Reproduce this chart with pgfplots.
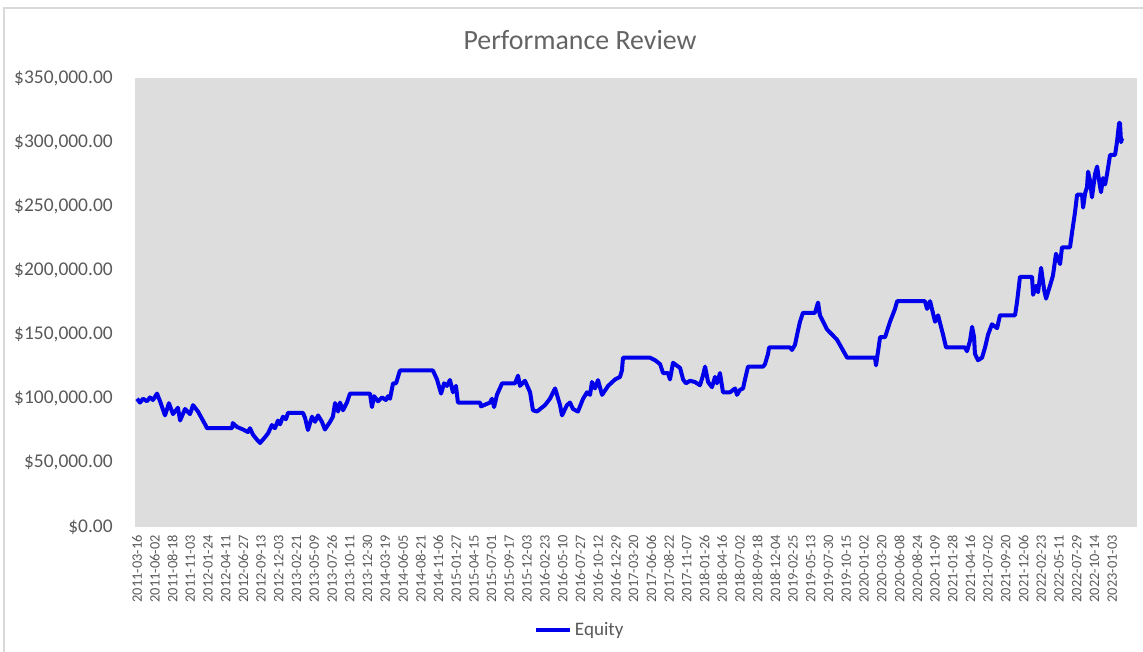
\documentclass[border=0pt]{standalone}
\usepackage{fontspec}
\setmainfont{Carlito}
\usepackage{pgfplots}
\pgfplotsset{compat=1.18}
\definecolor{tickgray}{RGB}{89,89,89}
\definecolor{titlegray}{RGB}{100,100,100}
\definecolor{bg}{RGB}{221,221,221}
\definecolor{framegray}{RGB}{217,217,217}
\definecolor{eqblue}{RGB}{0,0,235}
\begin{document}
\begin{tikzpicture}
\useasboundingbox (0,0) rectangle (857.25pt,-489pt);
\draw[framegray, line width=0.9pt] (3pt,-520pt) -- (3pt,-6pt) -- (900pt,-6pt);
\node[text=titlegray, font=\fontsize{20.9}{25}\selectfont] at (435pt,-30pt) {Performance Review};
\begin{axis}[
  at={(101.25pt,-395.25pt)}, anchor=south west,
  scale only axis, width=751.5pt, height=336.75pt,
  xmin=-0.113, xmax=56.4, ymin=0, ymax=350,
  axis line style={draw=none}, major tick style={draw=none},
  axis background/.style={fill=bg},
  clip=false,
  ytick={0,50,...,350},
  yticklabels={\$0.00,\$50{,}000.00,\$100{,}000.00,\$150{,}000.00,\$200{,}000.00,\$250{,}000.00,\$300{,}000.00,\$350{,}000.00},
  yticklabel style={font=\fontsize{14.6}{17}\selectfont, text=tickgray, inner sep=0pt, anchor=east},
  yticklabel shift=16.5pt,
  xtick={0,...,55},
  xticklabels={2011-03-16,2011-06-02,2011-08-18,2011-11-03,2012-01-24,2012-04-11,2012-06-27,2012-09-13,2012-12-03,2013-02-21,2013-05-09,2013-07-26,2013-10-11,2013-12-30,2014-03-19,2014-06-05,2014-08-21,2014-11-06,2015-01-27,2015-04-15,2015-07-01,2015-09-17,2015-12-03,2016-02-23,2016-05-10,2016-07-27,2016-10-12,2016-12-29,2017-03-20,2017-06-06,2017-08-22,2017-11-07,2018-01-26,2018-04-16,2018-07-02,2018-09-18,2018-12-04,2019-02-25,2019-05-13,2019-07-30,2019-10-15,2020-01-02,2020-03-20,2020-06-08,2020-08-24,2020-11-09,2021-01-28,2021-04-16,2021-07-02,2021-09-20,2021-12-06,2022-02-23,2022-05-11,2022-07-29,2022-10-14,2023-01-03},
  xticklabel style={font=\fontsize{10.8}{13}\selectfont, text=tickgray, rotate=90, anchor=east, inner sep=0pt},
  xticklabel shift=6pt,
  legend style={at={(0.444,-0.229)}, anchor=center, draw=none, fill=none, inner sep=0pt,
    font=\fontsize{14.3}{17}\selectfont, text=tickgray},
  legend image code/.code={\draw[#1, line width=3pt] (0pt,0pt) -- (26pt,0pt);},
]
\addplot[eqblue, line width=3pt, line join=round] table {
x y
0 100
0.17 97
0.34 100
0.56 98
0.73 101
0.90 99
1.13 104
1.30 98
1.58 87
1.80 96.5
2.03 88
2.31 93
2.43 83
2.71 92
2.99 88
3.16 95
3.44 90
3.72 83
3.84 80
3.95 77
5.36 77
5.40 81
5.64 78
5.98 76
6.26 74
6.37 77
6.54 72
6.77 68
6.94 65.5
7.22 70
7.39 73
7.61 79.5
7.78 77
7.95 83
8.07 80
8.23 86
8.40 84
8.52 89
9.36 89
9.48 85
9.64 75.6
9.87 86
10.04 82
10.21 87
10.43 82
10.60 76
10.89 82
11.05 86
11.17 96.6
11.34 90
11.45 97
11.62 91
11.84 97
12.01 104
13.14 104
13.25 93.5
13.37 102
13.59 98
13.82 101
14.04 99
14.16 102
14.27 100
14.44 112
14.61 112
14.83 122
16.69 122
16.92 115
17.15 104
17.32 112
17.48 110
17.65 114.6
17.82 105
17.99 110
18.10 97
19.35 97
19.40 94
19.91 97
20.02 100
20.14 93.5
20.30 103
20.59 112
21.32 112
21.49 118
21.60 110
21.88 114
22.17 105
22.33 91
22.56 90
23.01 95
23.29 100
23.58 108
23.86 95
23.97 87
24.25 95
24.42 97
24.59 92
24.87 90
25.16 100
25.38 105
25.55 103
25.66 113
25.83 108
26.00 114.5
26.23 103
26.57 110
26.96 115
27.24 117
27.35 122
27.41 132
28.93 132
29.22 130
29.50 127
29.67 120
29.95 120
30.06 115
30.23 128
30.63 124
30.80 115
30.96 112
31.19 114
31.47 113
31.75 110.5
31.92 118
32.04 125
32.21 113
32.43 109
32.60 117
32.71 112
32.88 120
33.05 105
33.45 105
33.73 108
33.84 103
34.01 107
34.18 108
34.29 115
34.46 125
35.31 125
35.42 127
35.59 135
35.65 140
36.83 140
36.94 138
37.11 142
37.23 150
37.39 160
37.56 167
38.24 167
38.41 175
38.52 165
38.92 154
39.48 146
40.05 132
41.62 132
41.68 126
41.91 148
42.19 148
42.47 160
42.75 170
42.87 176
44.44 176
44.56 170
44.73 176
45.01 160
45.18 165
45.46 150
45.63 140
46.70 140
46.81 137
46.98 145
47.10 156
47.21 148
47.26 135
47.43 130
47.66 132
47.83 140
48.00 150
48.22 158
48.51 155
48.67 165
49.52 165
49.63 175
49.80 195
49.92 195
50.48 195
50.54 181
50.70 188
50.82 183
50.99 202
51.16 185
51.27 178
51.49 188
51.66 196
51.83 213
52.06 205
52.17 218
52.62 218
52.74 230
52.90 245
53.02 259
53.30 259
53.36 249
53.47 260
53.58 265
53.64 277
53.75 270
53.86 257
54.03 275
54.15 281
54.26 270
54.37 261
54.48 272
54.60 267
54.71 275
54.88 290
55.16 290
55.27 300
55.39 315
55.44 315
55.50 300
55.56 303
};
\addlegendentry{Equity}
\end{axis}
\end{tikzpicture}
\end{document}
